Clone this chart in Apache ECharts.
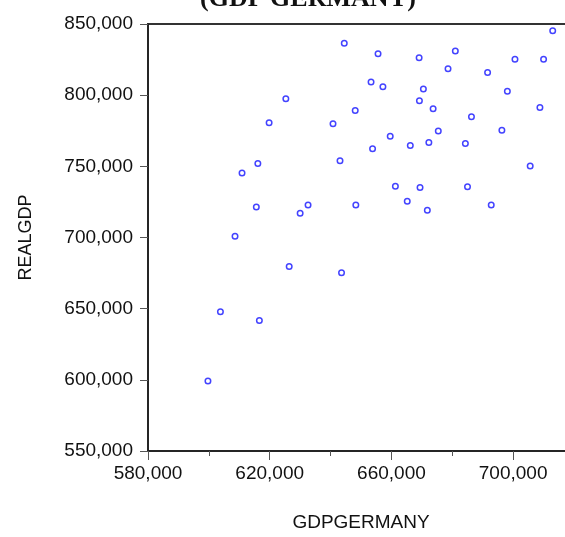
<!DOCTYPE html>
<html>
<head>
<meta charset="utf-8">
<script src="https://cdn.jsdelivr.net/npm/echarts@6/dist/echarts.min.js"></script>
<style>
html,body{margin:0;padding:0;background:#fff;}
#chart{width:565px;height:537px;}
</style>
</head>
<body>
<div id="chart"></div>
<script>
const gdpGermany = [713000,644500,655600,669100,681000,700600,710000,678600,691600,653300,
  657200,670500,698100,625300,669200,648100,673700,708800,619800,640800,
  686300,675400,696300,659600,653800,666200,672300,684300,616100,643100,
  610900,705600,661300,669400,685000,615600,632600,630000,648300,665200,
  671800,692800,608600,626400,643600,603800,616600,599700];
const realGdp = [845300,836400,829100,826300,831000,825200,825200,818600,816000,809200,
  805900,804300,802700,797500,796000,789300,790400,791400,780600,779900,
  784800,774900,775400,771200,762300,764700,766800,766100,752000,754000,
  745400,750300,736000,735100,735600,721500,722900,717100,722900,725500,
  719200,722900,700800,679600,675300,647900,641600,599100];
const xTicks = {min:580000, max:720000, interval:40000};
const yTicks = {min:550000, max:850000, interval:50000};
const titleText = "(GDP GERMANY)";
const xName = "GDPGERMANY";
const yName = "REALGDP";

const points = gdpGermany.map((x,i)=>[x, realGdp[i]]);
const fmt = v => v.toLocaleString('en-US');
const chart = echarts.init(document.getElementById('chart'), null, {renderer:'canvas'});
chart.setOption({
  animation:false,
  backgroundColor:'#ffffff',
  title:{
    text:titleText, left:303, textAlign:'center', top:-19,
    textStyle:{fontFamily:'Liberation Serif', fontWeight:'bold', fontSize:26, color:'#111'}
  },
  grid:{left:148, top:24, width:426, height:427, outerBoundsMode:'none', containLabel:false,
    show:true, borderColor:'#333', borderWidth:2, backgroundColor:'transparent'},
  xAxis:{
    type:'value', min:xTicks.min, max:xTicks.max, interval:xTicks.interval,
    name:xName, nameLocation:'middle', nameGap:62,
    nameTextStyle:{fontFamily:'Liberation Sans', fontSize:19, color:'#111'},
    axisLine:{show:true, onZero:false, lineStyle:{color:'#222', width:1.5}},
    axisTick:{show:true, inside:false, length:9, lineStyle:{color:'#555', width:1}},
    minorTick:{show:true, splitNumber:2, length:5, lineStyle:{color:'#555', width:1}},
    splitLine:{show:false},
    axisLabel:{margin:13, formatter:fmt, fontFamily:'Liberation Sans', fontSize:19, color:'#111'}
  },
  yAxis:{
    type:'value', min:yTicks.min, max:yTicks.max, interval:yTicks.interval,
    name:yName, nameLocation:'middle', nameGap:113, nameRotate:90,
    nameTextStyle:{fontFamily:'Liberation Sans', fontSize:18, color:'#111'},
    axisLine:{show:true, onZero:false, lineStyle:{color:'#222', width:1.5}},
    axisTick:{show:true, inside:false, length:8, lineStyle:{color:'#555', width:1}},
    splitLine:{show:false},
    axisLabel:{margin:15, formatter:fmt, fontFamily:'Liberation Sans', fontSize:19, color:'#111', padding:[0,0,7,0]}
  },
  series:[{
    type:'scatter', data:points, symbol:'circle', symbolSize:5.5,
    itemStyle:{color:'rgba(0,0,0,0)', borderColor:'#1414ff', borderWidth:1.5},
    emphasis:{disabled:true}
  }]
});
</script>
</body>
</html>
